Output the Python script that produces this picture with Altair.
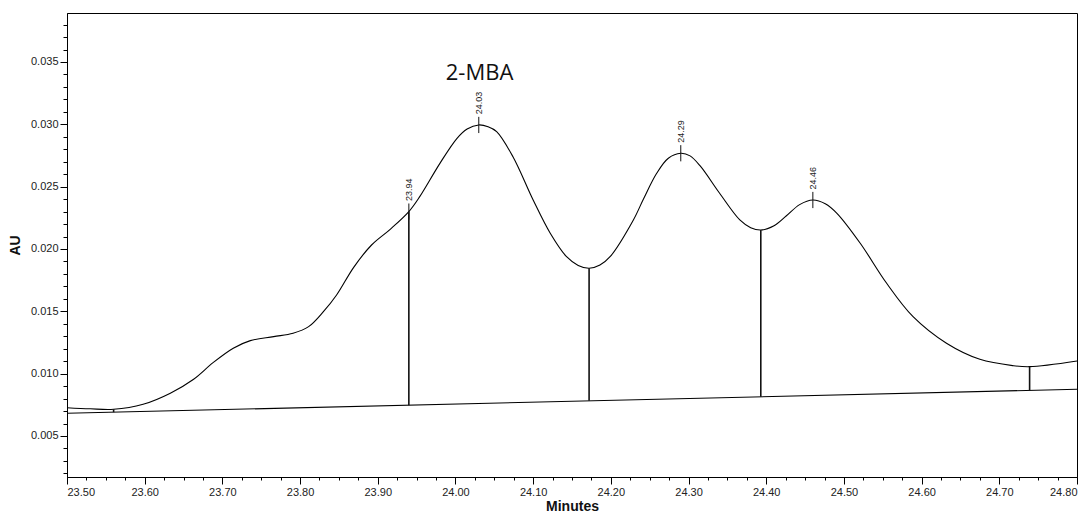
import altair as alt
import pandas as pd

# Chromatogram trace (retention time in minutes, absorbance in AU)
minutes = [
    23.500, 23.530, 23.560, 23.598, 23.633, 23.663, 23.688, 23.714, 23.736,
    23.766, 23.791, 23.811, 23.830, 23.847, 23.869, 23.892, 23.916, 23.940,
    23.954, 23.980, 24.002, 24.015, 24.030, 24.042, 24.053, 24.074, 24.100,
    24.122, 24.143, 24.158, 24.172, 24.186, 24.199, 24.229, 24.242, 24.259,
    24.274, 24.290, 24.302, 24.315, 24.340, 24.366, 24.380, 24.393, 24.410,
    24.426, 24.443, 24.460, 24.476, 24.491, 24.521, 24.555, 24.589, 24.632,
    24.675, 24.718, 24.739, 24.800,
]
absorbance = [
    0.00727, 0.00718, 0.00714, 0.00754, 0.00843, 0.00955, 0.01088, 0.01204, 0.01265,
    0.01297, 0.01324, 0.01377, 0.01497, 0.01631, 0.01853, 0.02032, 0.02158, 0.02300,
    0.02420, 0.02687, 0.02888, 0.02963, 0.02995, 0.02980, 0.02941, 0.02740, 0.02393,
    0.02126, 0.01938, 0.01868, 0.01845, 0.01871, 0.01938, 0.02233, 0.02401, 0.02607,
    0.02728, 0.02768, 0.02747, 0.02666, 0.02447, 0.02233, 0.02171, 0.02152, 0.02187,
    0.02267, 0.02356, 0.02393, 0.02363, 0.02286, 0.02046, 0.01725, 0.01457, 0.01244,
    0.01115, 0.01064, 0.01056, 0.01102,
]

# Integrated peaks: apex retention time and height
peak_rt = [23.94, 24.03, 24.29, 24.46]
peak_au = [0.02300, 0.02995, 0.02768, 0.02393]
peak_text = ["23.94", "24.03", "24.29", "24.46"]

# Peak boundaries (drop lines from baseline up to the trace)
drop_rt = [23.56, 23.94, 24.172, 24.393, 24.739]
drop_au = [0.00714, 0.02300, 0.01845, 0.02152, 0.01056]

# Integration baseline end points
baseline_rt = [23.50, 24.80]
baseline_au = [0.00682, 0.00875]

compound_name = "2-MBA"
compound_rt = 24.031
compound_au = 0.03356

x_major = [23.50, 23.60, 23.70, 23.80, 23.90, 24.00, 24.10,
           24.20, 24.30, 24.40, 24.50, 24.60, 24.70, 24.80]
x_minor = [round(23.50 + 0.025 * i, 3) for i in range(53)]
y_major = [0.005, 0.010, 0.015, 0.020, 0.025, 0.030, 0.035]
y_minor = [round(0.002 + 0.001 * i, 3) for i in range(37)]

X_DOMAIN = [23.50, 24.80]
Y_DOMAIN = [0.00171, 0.03893]

FONT = "Liberation Sans"

trace = pd.DataFrame({"rt": minutes, "au": absorbance})
peaks = pd.DataFrame({"rt": peak_rt, "au": peak_au, "label": peak_text})


def baseline_at(t):
    f = (t - baseline_rt[0]) / (baseline_rt[1] - baseline_rt[0])
    return baseline_au[0] + f * (baseline_au[1] - baseline_au[0])


drops = pd.DataFrame({
    "rt": drop_rt,
    "top": drop_au,
    "bottom": [baseline_at(t) for t in drop_rt],
})
baseline = pd.DataFrame({"rt": baseline_rt, "au": baseline_au})
compound = pd.DataFrame({"rt": [compound_rt], "au": [compound_au], "name": [compound_name]})

xs = alt.Scale(domain=X_DOMAIN, nice=False, zero=False)
ys = alt.Scale(domain=Y_DOMAIN, nice=False, zero=False)

x_axis_major = alt.Axis(
    values=x_major, format=".2f", tickSize=7, orient="bottom", title="Minutes",
    labelFont=FONT, labelFontSize=11, labelColor="#222", labelPadding=2,
    titleFont=FONT, titleFontSize=14, titleFontWeight="bold", titleColor="#111",
    titlePadding=2, domainColor="black", tickColor="black", grid=False,
    labelOverlap=False,
)
y_axis_major = alt.Axis(
    values=y_major, format=".3f", tickSize=7, orient="left", title="AU",
    labelFont=FONT, labelFontSize=11, labelColor="#222", labelPadding=2,
    titleFont=FONT, titleFontSize=14, titleFontWeight="bold", titleColor="#111",
    titlePadding=8, domainColor="black", tickColor="black", grid=False,
    labelOverlap=False,
)
x_axis_minor = alt.Axis(
    values=x_minor, labels=False, tickSize=3, orient="bottom", title=None,
    domain=False, tickColor="black", grid=False,
)
y_axis_minor = alt.Axis(
    values=y_minor, labels=False, tickSize=4, orient="left", title=None,
    domain=False, tickColor="black", grid=False,
)

curve = alt.Chart(trace).mark_line(
    color="black", strokeWidth=1.1, interpolate="catmull-rom"
).encode(
    x=alt.X("rt:Q", scale=xs, axis=x_axis_major),
    y=alt.Y("au:Q", scale=ys, axis=y_axis_major),
)

base_line = alt.Chart(baseline).mark_line(color="black", strokeWidth=1.1).encode(
    x=alt.X("rt:Q", scale=xs, axis=x_axis_minor),
    y=alt.Y("au:Q", scale=ys, axis=y_axis_minor),
)

drop_lines = alt.Chart(drops).mark_rule(color="#111", strokeWidth=1.6).encode(
    x=alt.X("rt:Q", scale=xs, axis=None),
    y=alt.Y("bottom:Q", scale=ys, axis=None),
    y2="top:Q",
)

apex_ticks = alt.Chart(peaks).transform_calculate(
    lo="datum.au - 0.00065", hi="datum.au + 0.00065"
).mark_rule(color="#111", strokeWidth=1).encode(
    x=alt.X("rt:Q", scale=xs, axis=None),
    y=alt.Y("lo:Q", scale=ys, axis=None),
    y2="hi:Q",
)

apex_labels = alt.Chart(peaks).transform_calculate(
    ly="datum.au + 0.00085"
).mark_text(
    angle=270, align="left", baseline="middle", font=FONT, fontSize=9, color="#222"
).encode(
    x=alt.X("rt:Q", scale=xs, axis=None),
    y=alt.Y("ly:Q", scale=ys, axis=None),
    text="label:N",
)

compound_label = alt.Chart(compound).mark_text(
    align="center", baseline="alphabetic", font="Open Sans", fontSize=22, color="#111"
).encode(
    x=alt.X("rt:Q", scale=xs, axis=None),
    y=alt.Y("au:Q", scale=ys, axis=None),
    text="name:N",
)

chart = alt.layer(
    curve, base_line, drop_lines, apex_ticks, apex_labels, compound_label
).resolve_axis(
    x="independent", y="independent"
).properties(
    width=1010,
    height=464,
    autosize=alt.AutoSizeParams(type="none"),
    padding={"left": 67, "top": 13, "right": 12, "bottom": 36},
    background="white",
).configure_view(
    stroke="black", strokeWidth=1
)

chart.save("out.html", embed_options={"renderer": "svg", "actions": False})
